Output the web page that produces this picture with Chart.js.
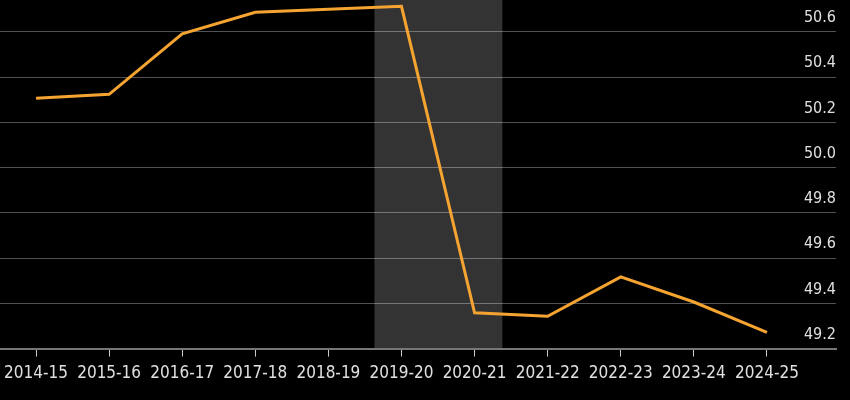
<!DOCTYPE html>
<html>
<head>
<meta charset="utf-8">
<script src="https://cdn.jsdelivr.net/npm/chart.js@4"></script>
<style>
  html, body { margin: 0; padding: 0; background: #000; }
  #wrap { width: 850px; height: 400px; }
</style>
</head>
<body>
<div id="wrap"><canvas id="chart"></canvas></div>
<script>
const seasons = ["2014-15", "2015-16", "2016-17", "2017-18", "2018-19", "2019-20",
  "2020-21", "2021-22", "2022-23", "2023-24", "2024-25"];
const values = [50.307, 50.324, 50.591, 50.687, 50.70, 50.713,
  49.358, 49.343, 49.517, 49.406, 49.272];
const yTicks = [49.2, 49.4, 49.6, 49.8, 50.0, 50.2, 50.4, 50.6];
// shaded period, in category units
const bandStart = 4.63;
const bandEnd = 6.38;

const bgPlugin = {
  id: "bg",
  beforeDraw(chart) {
    const { ctx, chartArea, scales } = chart;
    ctx.save();
    ctx.fillStyle = "#000";
    ctx.fillRect(0, 0, chart.width, chart.height);
    const x0 = scales.x.getPixelForValue(bandStart);
    const x1 = scales.x.getPixelForValue(bandEnd);
    ctx.fillStyle = "#333333";
    ctx.fillRect(x0, chartArea.top, x1 - x0, chartArea.bottom - chartArea.top);
    ctx.restore();
  }
};

// no extra room for half-labels at the scale ends
function noScalePadding(s) {
  s.paddingTop = 0;
  s.paddingBottom = 0;
  s.paddingLeft = 0;
  s.paddingRight = 0;
}

new Chart(document.getElementById("chart"), {
  type: "line",
  data: {
    datasets: [{
      data: values.map((v, i) => ({ x: i, y: v })),
      borderColor: "#f5a431",
      borderWidth: 3,
      pointRadius: 0,
      tension: 0,
      clip: false
    }]
  },
  options: {
    responsive: true,
    maintainAspectRatio: false,
    animation: false,
    layout: { padding: { left: 0, right: 14, top: 0, bottom: 9 } },
    plugins: { legend: { display: false }, tooltip: { enabled: false } },
    scales: {
      x: {
        type: "linear",
        min: -0.493,
        max: 10.945,
        afterBuildTicks: (s) => { s.ticks = seasons.map((c, i) => ({ value: i })); },
        afterFit: noScalePadding,
        grid: { drawOnChartArea: false, drawTicks: true, tickLength: 8, color: "#cccccc" },
        border: { display: true, color: "#777777", width: 2 },
        ticks: {
          callback: (v) => seasons[v],
          color: "#e0e0e0",
          padding: 7,
          maxRotation: 0,
          autoSkip: false,
          font: { family: "DejaVu Sans Condensed", size: 17 }
        }
      },
      y: {
        position: "right",
        min: 49.2,
        max: 50.741,
        afterBuildTicks: (s) => { s.ticks = yTicks.map((v) => ({ value: v })); },
        afterFit: noScalePadding,
        grid: { color: "rgba(255,255,255,0.32)", drawTicks: false },
        border: { display: false },
        ticks: {
          mirror: true,
          padding: 0,
          labelOffset: -14,
          color: "#e0e0e0",
          callback: (v) => v.toFixed(1),
          font: { family: "DejaVu Sans Condensed", size: 16 }
        }
      }
    }
  },
  plugins: [bgPlugin]
});
</script>
</body>
</html>
